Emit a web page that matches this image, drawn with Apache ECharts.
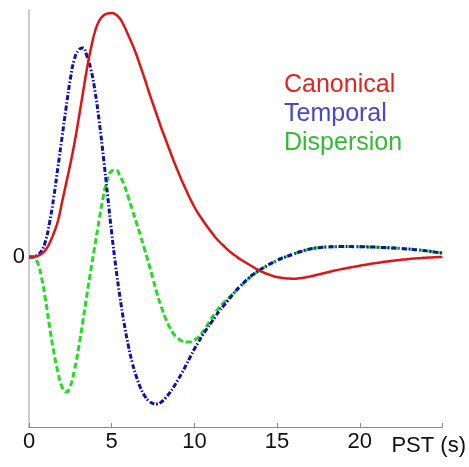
<!DOCTYPE html>
<html>
<head>
<meta charset="utf-8">
<script src="https://cdn.jsdelivr.net/npm/echarts@6/dist/echarts.min.js"></script>
<style>html,body{margin:0;padding:0;background:#fff}#c{width:469px;height:467px}</style>
</head>
<body>
<div id="c"></div>
<script>
// post-stimulus time (s), one reading every 0.25 s
var tStart = 0, tStep = 0.25;
var canonical = [0,0,1,3,7,14,24,36,55,74,93,114,138,163,188,209,226,236.5,241.5,243.5,244,242.5,238.5,231,222,212.5,202,190,178,165,153,141,129,118,107,96,86,76,67,58,50,43,37,31,25.5,20,15.5,11.5,7.5,4,1,-2,-4.5,-7,-9.5,-12,-14,-16,-17.5,-19,-20,-20.8,-21.3,-21.6,-21.8,-21.5,-21,-20.3,-19.5,-18.5,-17.5,-16.5,-15.5,-14.5,-13.5,-12.6,-11.8,-11,-10.2,-9.4,-8.7,-8,-7.3,-6.6,-6,-5.4,-4.8,-4.2,-3.7,-3.2,-2.8,-2.4,-2,-1.6,-1.3,-1,-0.7,-0.5,-0.3,-0.1,0];
var temporal = [0,0,2,6,16,35,60,90,120,150,178,198,207,209,201,187,165,135,100,62,24,-10,-40,-66,-88,-106,-120,-131,-139,-144,-146.5,-147,-145,-141,-136,-130,-123,-116,-108,-100,-92,-85,-78,-72,-66,-60,-54,-49,-44,-39,-34,-29.5,-25.5,-21.5,-18,-15,-12.5,-10,-7.5,-5.5,-3.5,-1.5,0,1.5,3,4.5,5.8,7,8,8.8,9.3,9.7,10,10.2,10.3,10.4,10.4,10.4,10.4,10.3,10.3,10.2,10.1,10,9.8,9.6,9.4,9.2,9,8.8,8.5,8.2,7.9,7.5,7.1,6.7,6.2,5.7,5.1,4.5,4];
var dispersion = [0,0,-5,-20,-43,-70,-95,-115,-130,-135,-129,-113,-91,-65,-38,-12,13,38,61,78,86,87,81,72,60,47,34,21,7,-7,-22,-37,-50,-61,-70,-77,-81,-84,-85,-85,-83,-80,-75,-69,-62,-56,-50.5,-46,-42,-38,-34,-30,-26,-22,-18.5,-15.5,-12.5,-10,-7.5,-5.5,-3.5,-1.5,0,1.5,3,4.5,5.8,7,8,8.8,9.3,9.7,10,10.2,10.3,10.4,10.4,10.4,10.4,10.3,10.3,10.2,10.1,10,9.8,9.6,9.4,9.2,9,8.8,8.5,8.2,7.9,7.5,7.1,6.7,6.2,5.7,5.1,4.5,4];
var seriesNames = ['Canonical','Temporal','Dispersion'];
var xTicks = [0,5,10,15,20];
var xName = 'PST (s)';

function pairs(arr){ return arr.map(function(v,i){ return [tStart + i*tStep, v]; }); }

var FONT = 'Liberation Sans, Arial, sans-serif';
var chart = echarts.init(document.getElementById('c'), null, {renderer:'canvas'});
chart.setOption({
  animation:false,
  backgroundColor:'#ffffff',
  grid:{left:29,right:24,top:10,bottom:40,containLabel:false},
  xAxis:{
    type:'value',min:0,max:25,interval:5,
    axisLine:{onZero:false,lineStyle:{color:'#8c8c8c',width:1}},
    axisTick:{show:true,inside:true,length:4,lineStyle:{color:'#8c8c8c'}},
    splitLine:{show:false},
    axisLabel:{color:'#111',fontSize:22,fontFamily:FONT,margin:4,
      formatter:function(v){ return xTicks.indexOf(v)>=0 ? String(v) : ''; }},
    name:xName,nameLocation:'end',nameGap:-51,
    nameTextStyle:{color:'#111',fontSize:22,fontFamily:FONT,align:'left',verticalAlign:'top',padding:[8,0,0,0]}
  },
  yAxis:{
    type:'value',min:-170,max:247,interval:170,
    axisLine:{show:true,onZero:false,lineStyle:{color:'#cccccc',width:2}},
    axisTick:{show:false},
    splitLine:{show:false},
    axisLabel:{color:'#111',fontSize:22,fontFamily:FONT,margin:4,
      showMaxLabel:false,
      formatter:function(v){ return v===0 ? '0' : ''; }}
  },
  graphic:[
    {type:'text',left:284,top:73,style:{text:seriesNames[0],fill:'#e32222',font:'25px "Liberation Sans", Arial, sans-serif'}},
    {type:'text',left:284,top:102,style:{text:seriesNames[1],fill:'#4747cf',font:'25px "Liberation Sans", Arial, sans-serif'}},
    {type:'text',left:284,top:131,style:{text:seriesNames[2],fill:'#33bb33',font:'25px "Liberation Sans", Arial, sans-serif'}}
  ],
  series:[
    {name:seriesNames[2],type:'line',data:pairs(dispersion),smooth:0.5,showSymbol:false,
      lineStyle:{color:'#22dd22',width:3,type:[6,3]},z:2},
    {name:seriesNames[1],type:'line',data:pairs(temporal),smooth:0.5,showSymbol:false,
      lineStyle:{color:'#1010b0',width:3,type:[5,2,1.5,2]},z:3},
    {name:seriesNames[0],type:'line',data:pairs(canonical),smooth:0.5,showSymbol:false,
      lineStyle:{color:'#dd1515',width:2.5,type:'solid'},z:4}
  ]
});
</script>
</body>
</html>
